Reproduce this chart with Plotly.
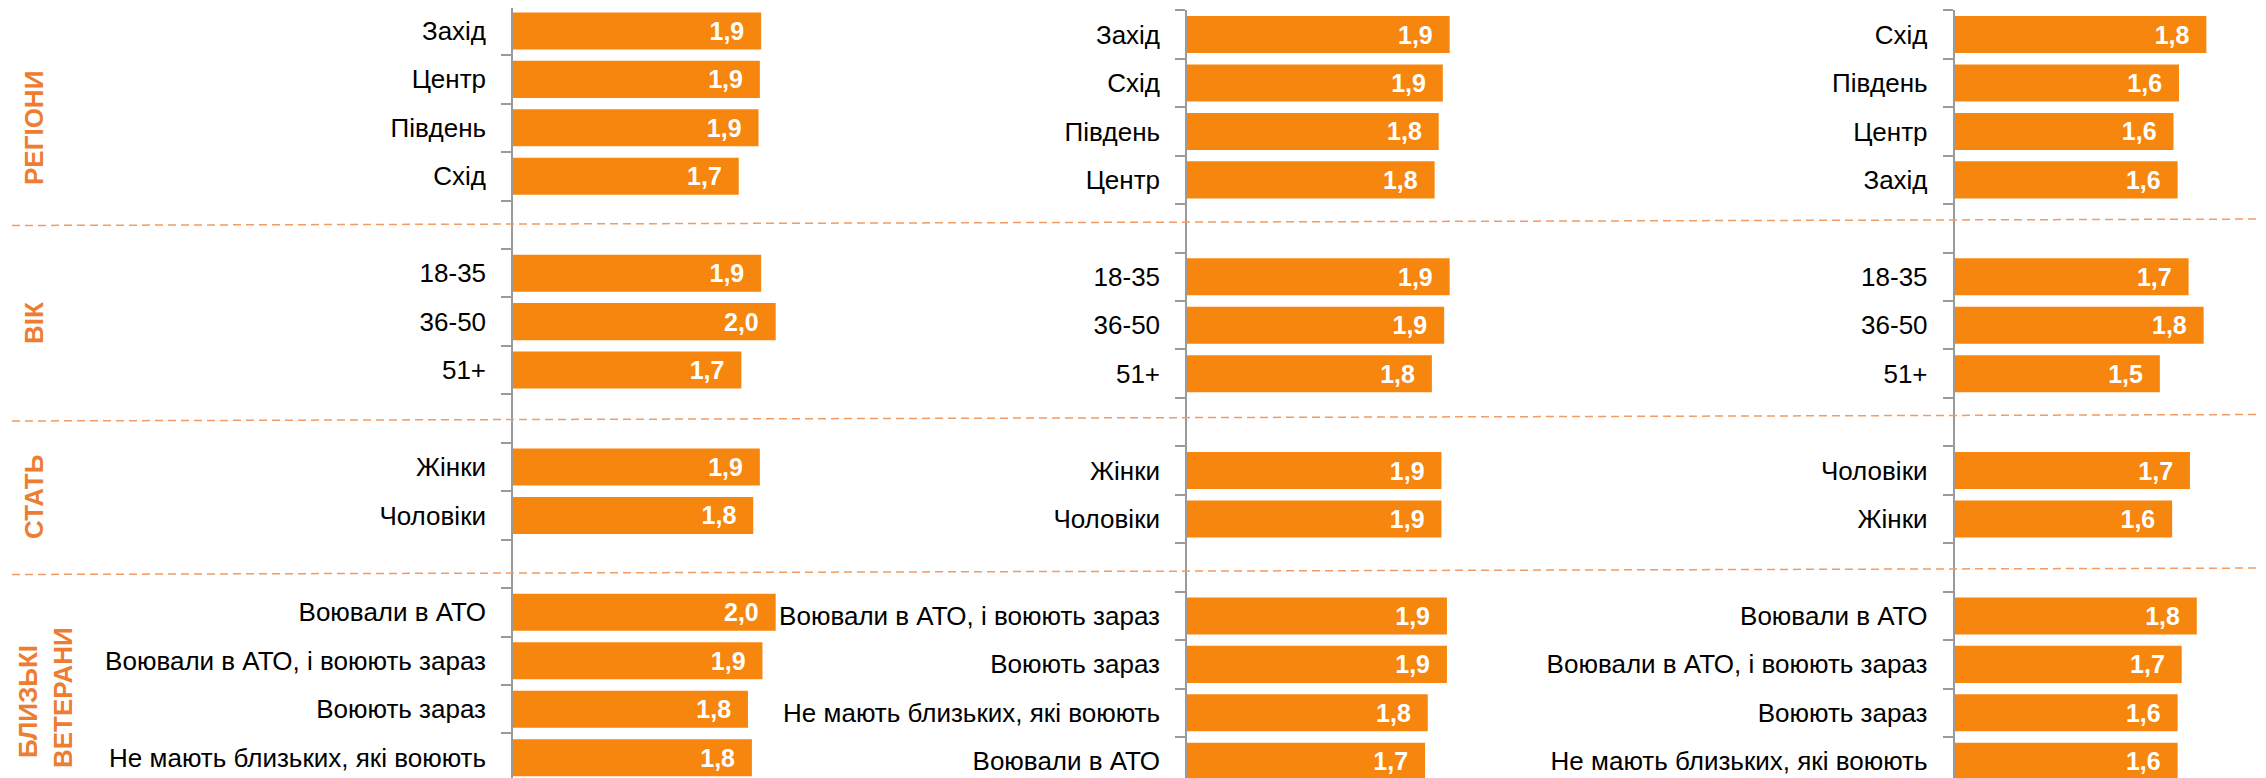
import plotly.graph_objects as go

# ---- data (labels shown with one decimal) ----
groups = ["РЕГІОНИ", "ВІК", "СТАТЬ", "БЛИЗЬКІ", "ВЕТЕРАНИ"]

p1_regions = ["Захід", "Центр", "Південь", "Схід"]
p1_regions_val = [1.88, 1.87, 1.86, 1.71]
p1_age = ["18-35", "36-50", "51+"]
p1_age_val = [1.88, 1.99, 1.73]
p1_sex = ["Жінки", "Чоловіки"]
p1_sex_val = [1.87, 1.82]
p1_vet = ["Воювали в АТО", "Воювали в АТО, і воюють зараз", "Воюють зараз", "Не мають близьких, які воюють"]
p1_vet_val = [1.99, 1.89, 1.78, 1.81]

p2_regions = ["Захід", "Схід", "Південь", "Центр"]
p2_regions_val = [1.92, 1.87, 1.84, 1.81]
p2_age = ["18-35", "36-50", "51+"]
p2_age_val = [1.92, 1.88, 1.79]
p2_sex = ["Жінки", "Чоловіки"]
p2_sex_val = [1.86, 1.86]
p2_vet = ["Воювали в АТО, і воюють зараз", "Воюють зараз", "Не мають близьких, які воюють", "Воювали в АТО"]
p2_vet_val = [1.90, 1.90, 1.76, 1.74]

p3_regions = ["Схід", "Південь", "Центр", "Захід"]
p3_regions_val = [1.84, 1.64, 1.60, 1.63]
p3_age = ["18-35", "36-50", "51+"]
p3_age_val = [1.71, 1.82, 1.50]
p3_sex = ["Чоловіки", "Жінки"]
p3_sex_val = [1.72, 1.59]
p3_vet = ["Воювали в АТО", "Воювали в АТО, і воюють зараз", "Воюють зараз", "Не мають близьких, які воюють"]
p3_vet_val = [1.77, 1.66, 1.63, 1.63]

W, H = 2266, 778
OFF = 8  # page body margin: figure sits 8px right/down in the window
BAR = "#F6860D"
ORANGE = "#ED7D31"
GREY = "#9A9A9A"
FONT = "Liberation Sans, Arial, sans-serif"


def stack(parts):
    # blank categories act as spacers between groups
    cats, vals = [], []
    for i, (c, v) in enumerate(parts):
        if i:
            cats.append(" " * i)
            vals.append(None)
        cats += c
        vals += v
    return cats, vals


panels = [
    stack([(p1_regions, p1_regions_val), (p1_age, p1_age_val), (p1_sex, p1_sex_val), (p1_vet, p1_vet_val)]),
    stack([(p2_regions, p2_regions_val), (p2_age, p2_age_val), (p2_sex, p2_sex_val), (p2_vet, p2_vet_val)]),
    stack([(p3_regions, p3_regions_val), (p3_age, p3_age_val), (p3_sex, p3_sex_val), (p3_vet, p3_vet_val)]),
]

# axis left edge (window px), plot width (px), px per unit, top of first slot (window px)
geo = [(513, 560, 132.0, 6.7), (1187, 560, 136.8, 10.3), (1954.5, 320, 137.1, 10.3)]
slot = 48.45

fig = go.Figure()
layout = {}
for i, ((cats, vals), (x0, w, k, top)) in enumerate(zip(panels, geo)):
    n = "" if i == 0 else str(i + 1)
    txt = [None if v is None else f"{v:.1f}".replace(".", ",") + "\u00a0\u00a0" for v in vals]
    fig.add_trace(go.Bar(
        x=vals, y=cats, orientation="h", xaxis="x" + n, yaxis="y" + n,
        marker=dict(color=BAR, line=dict(width=0)),
        text=txt, textposition="inside", insidetextanchor="end", textangle=0,
        constraintext="none",
        textfont=dict(family=FONT, size=25, color="white", weight="bold"),
        hoverinfo="skip", showlegend=False,
    ))
    fx0 = x0 - OFF
    layout["xaxis" + n] = dict(
        domain=[fx0 / W, min(1, (fx0 + w) / W)], range=[0, w / k], anchor="y" + n,
        visible=False, fixedrange=True,
    )
    ftop = max(0.0, top - OFF)
    r_top = -0.5 + (ftop + OFF - top) / slot
    r_bot = -0.5 + (H + OFF - top) / slot
    layout["yaxis" + n] = dict(
        domain=[0, 1 - ftop / H], anchor="x" + n, type="category",
        categoryorder="array", categoryarray=cats,
        range=[r_bot, r_top],
        showline=True, linecolor=GREY, linewidth=1.5,
        ticks="outside", tickson="boundaries", ticklen=10, tickwidth=1.5, tickcolor=GREY,
        tickfont=dict(family=FONT, size=26, color="black"),
        ticklabelstandoff=20,
        showgrid=False, zeroline=False, automargin=False, fixedrange=True,
    )

# group titles on the left (window px centres)
ann = []
for text, x, y in [(groups[0], 34, 128), (groups[1], 34, 323), (groups[2], 34, 497),
                   (groups[3], 28, 702), (groups[4], 63, 698)]:
    ann.append(dict(text=text, xref="paper", yref="paper", x=(x - OFF) / W, y=1 - (y - OFF) / H,
                    xanchor="center", yanchor="middle", textangle=-90, showarrow=False,
                    font=dict(family=FONT, size=26, color=ORANGE, weight="bold")))

# dashed separators between groups (slightly tilted as in the original slide)
shapes = []
for ya, yb in [(225.5, 219), (421, 414.5), (574.5, 568)]:
    shapes.append(dict(type="line", xref="paper", yref="paper", x0=(12 - OFF) / W, x1=1,
                       y0=1 - (ya - OFF) / H, y1=1 - (yb - OFF) / H, layer="above",
                       line=dict(color="#F29B62", width=1.5, dash="8px,5px")))

fig.update_layout(
    width=W, height=H, margin=dict(l=0, r=0, t=0, b=0),
    paper_bgcolor="white", plot_bgcolor="rgba(0,0,0,0)",
    bargap=0.236, annotations=ann, shapes=shapes, **layout,
)
fig.write_html("out.html")
